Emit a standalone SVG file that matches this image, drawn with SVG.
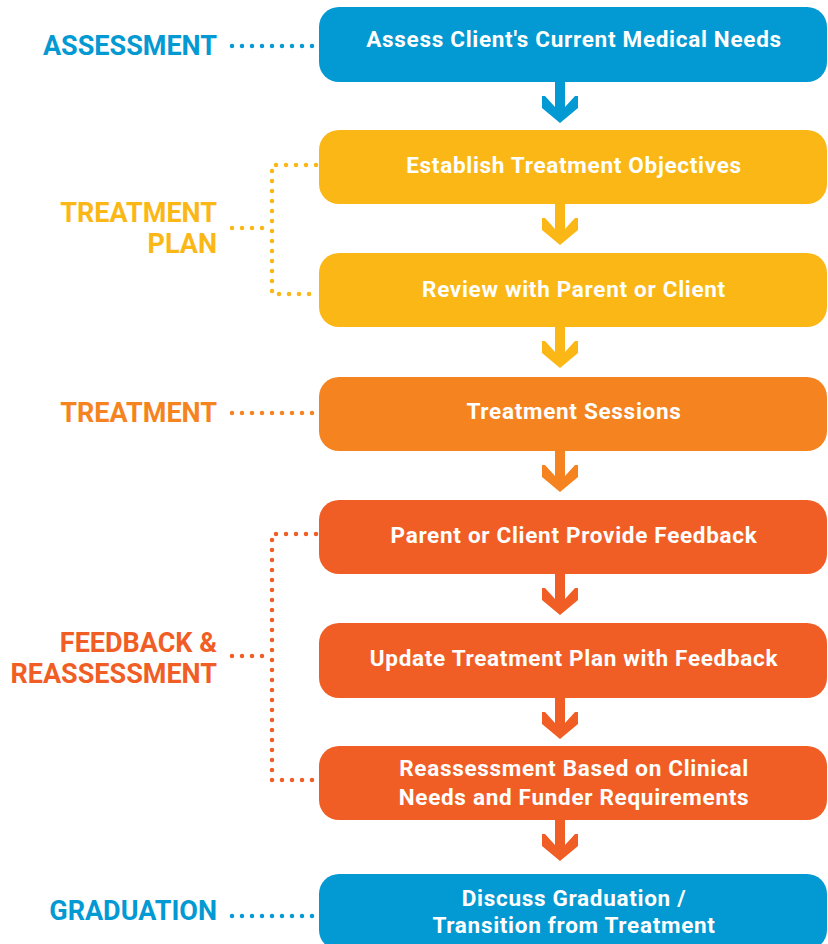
<svg xmlns="http://www.w3.org/2000/svg" width="828" height="944" viewBox="0 0 828 944">
  <style>
    .box-blue { fill: #0399d2; }
    .box-yellow { fill: #fbb716; }
    .box-orange { fill: #f58420; }
    .box-red { fill: #f15e25; }
    .step { font-family: Roboto, "Liberation Sans", sans-serif; font-weight: 700; font-size: 22.5px; letter-spacing: 0.7px; fill: #ffffff; text-anchor: middle; }
    .phase { font-family: Roboto, "Liberation Sans", sans-serif; font-weight: 700; font-size: 27px; text-anchor: end; }
    .dots { fill: none; stroke-width: 4.5; stroke-linecap: round; stroke-dasharray: 0 10; }
  </style>
  <defs>
    <!-- down arrow: stem plus chevron, top at 0, centred on 0 -->
    <path id="down" d="M-5,0 H5 V25 L15,14 H18 V26 L0,41 L-18,26 V14 H-15 L-5,25 Z"/>
  </defs>
  <rect width="828" height="944" fill="#ffffff"/>

  <!-- phase labels -->
  <g id="phase-assessment">
    <text class="phase" x="217" y="55" fill="#0399d2">ASSESSMENT</text>
  </g>
  <g id="phase-treatment-plan">
    <text class="phase" x="217" y="222" fill="#fbb716">TREATMENT</text>
    <text class="phase" x="217" y="253" fill="#fbb716">PLAN</text>
  </g>
  <g id="phase-treatment">
    <text class="phase" x="217" y="422" fill="#f58420">TREATMENT</text>
  </g>
  <g id="phase-feedback">
    <text class="phase" x="217" y="652" fill="#f15e25">FEEDBACK &amp;</text>
    <text class="phase" x="217" y="683" fill="#f15e25">REASSESSMENT</text>
  </g>
  <g id="phase-graduation">
    <text class="phase" x="217" y="920" fill="#0399d2">GRADUATION</text>
  </g>

  <!-- connectors -->
  <g id="connectors">
    <path class="dots" stroke="#0399d2" d="M232,46 H314"/>
    <path class="dots" stroke="#fbb716" d="M232,228 H272 M316,165 H272 V294 H316"/>
    <path class="dots" stroke="#f58420" d="M232,413 H314"/>
    <path class="dots" stroke="#f15e25" d="M232,656 H272 M316,534 H272 V780 H316"/>
    <path class="dots" stroke="#0399d2" d="M232,916 H314"/>

    <use href="#down" x="560" y="82" fill="#0399d2"/>
    <use href="#down" x="560" y="204" fill="#fbb716"/>
    <use href="#down" x="560" y="327" fill="#fbb716"/>
    <use href="#down" x="560" y="451" fill="#f58420"/>
    <use href="#down" x="560" y="574" fill="#f15e25"/>
    <use href="#down" x="560" y="698" fill="#f15e25"/>
    <use href="#down" x="560" y="820" fill="#f15e25"/>
  </g>

  <!-- steps -->
  <g id="step-assess">
    <rect class="box-blue" x="319" y="7" width="508" height="75" rx="20"/>
    <text class="step" x="574" y="47">Assess Client's Current Medical Needs</text>
  </g>
  <g id="step-objectives">
    <rect class="box-yellow" x="319" y="130" width="508" height="74" rx="20"/>
    <text class="step" x="574" y="173">Establish Treatment Objectives</text>
  </g>
  <g id="step-review">
    <rect class="box-yellow" x="319" y="253" width="508" height="74" rx="20"/>
    <text class="step" x="574" y="297">Review with Parent or Client</text>
  </g>
  <g id="step-sessions">
    <rect class="box-orange" x="319" y="377" width="508" height="74" rx="20"/>
    <text class="step" x="574" y="419">Treatment Sessions</text>
  </g>
  <g id="step-feedback">
    <rect class="box-red" x="319" y="500" width="508" height="74" rx="20"/>
    <text class="step" x="574" y="543">Parent or Client Provide Feedback</text>
  </g>
  <g id="step-update">
    <rect class="box-red" x="319" y="623" width="508" height="75" rx="20"/>
    <text class="step" x="574" y="666">Update Treatment Plan with Feedback</text>
  </g>
  <g id="step-reassess">
    <rect class="box-red" x="319" y="746" width="508" height="74" rx="20"/>
    <text class="step" x="574" y="776">Reassessment Based on Clinical</text>
    <text class="step" x="574" y="805">Needs and Funder Requirements</text>
  </g>
  <g id="step-graduation">
    <rect class="box-blue" x="319" y="874" width="508" height="76" rx="20"/>
    <text class="step" x="574" y="906">Discuss Graduation /</text>
    <text class="step" x="574" y="933">Transition from Treatment</text>
  </g>
</svg>
